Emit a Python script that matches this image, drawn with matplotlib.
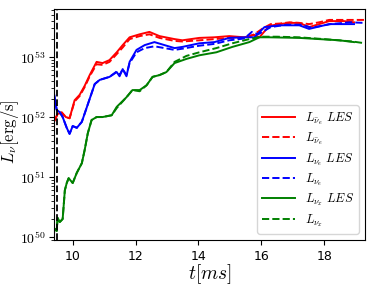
import numpy as np
import matplotlib
matplotlib.use('Agg')
import matplotlib.pyplot as plt
from matplotlib.ticker import FuncFormatter

plt.rcParams['mathtext.fontset'] = 'cm'

# time [ms] and log10 luminosity
t_ae = [9.40, 9.52, 9.65, 9.78, 9.90, 10.06, 10.22, 10.38, 10.54, 10.76, 10.95, 11.17, 11.40, 11.59,
        11.81, 12.13, 12.44, 12.76, 13.24, 13.49, 14.03, 14.51, 14.98, 15.46, 15.78, 15.94, 16.25,
        16.57, 16.89, 17.21, 17.52, 17.84, 18.16, 18.63, 18.95]
L_ae_les = [51.92, 52.05, 52.08, 52.00, 51.98, 52.28, 52.37, 52.52, 52.70, 52.92, 52.90, 52.95, 53.08, 53.20,
            53.33, 53.38, 53.42, 53.35, 53.30, 53.28, 53.32, 53.33, 53.35, 53.33, 53.37, 53.33, 53.52,
            53.55, 53.57, 53.57, 53.50, 53.55, 53.60, 53.60, 53.58]
t_ae_d = [9.40, 9.52, 9.65, 9.78, 9.90, 10.06, 10.22, 10.38, 10.54, 10.76, 10.95, 11.17, 11.40, 11.59,
          11.81, 12.13, 12.44, 12.76, 13.24, 13.49, 14.03, 14.51, 14.98, 15.46, 15.78, 16.05, 16.30,
          16.60, 16.90, 17.21, 17.52, 17.84, 18.16, 18.63, 19.30]
L_ae = [51.92, 52.05, 52.07, 52.00, 51.98, 52.26, 52.35, 52.50, 52.68, 52.88, 52.87, 52.92, 53.05, 53.16,
        53.30, 53.35, 53.38, 53.32, 53.27, 53.26, 53.28, 53.30, 53.32, 53.32, 53.38, 53.48, 53.55,
        53.56, 53.58, 53.57, 53.55, 53.58, 53.62, 53.62, 53.62]

t_e = [9.40, 9.49, 9.59, 9.68, 9.81, 9.90, 10.00, 10.13, 10.29, 10.44, 10.57, 10.70, 10.86, 11.17, 11.40,
       11.49, 11.59, 11.71, 11.81, 12.03, 12.29, 12.60, 12.92, 13.24, 13.49, 14.03, 14.51, 14.98, 15.46,
       15.78, 16.10, 16.57, 17.21, 17.52, 18.16, 18.79, 18.95]
L_e_les = [52.40, 52.12, 52.08, 52.00, 51.82, 51.72, 51.85, 51.82, 51.92, 52.15, 52.35, 52.55, 52.62, 52.67, 52.75,
           52.68, 52.80, 52.68, 52.92, 53.12, 53.20, 53.25, 53.20, 53.15, 53.17, 53.23, 53.25, 53.32, 53.33,
           53.33, 53.50, 53.53, 53.53, 53.47, 53.55, 53.55, 53.55]
t_e_d = [9.40, 9.49, 9.59, 9.68, 9.81, 9.90, 10.00, 10.13, 10.29, 10.44, 10.57, 10.70, 10.86, 11.17, 11.40,
         11.49, 11.59, 11.71, 11.81, 12.03, 12.29, 12.60, 12.92, 13.24, 13.49, 14.03, 14.51, 14.98, 15.46,
         15.70, 15.90, 16.30, 16.80, 17.30, 17.60, 18.20, 18.80, 19.30]
L_e = [52.40, 52.12, 52.08, 52.00, 51.82, 51.72, 51.85, 51.82, 51.92, 52.15, 52.35, 52.55, 52.62, 52.67, 52.76,
       52.70, 52.80, 52.70, 52.90, 53.08, 53.15, 53.18, 53.15, 53.12, 53.14, 53.19, 53.22, 53.28, 53.31,
       53.42, 53.38, 53.50, 53.54, 53.54, 53.49, 53.55, 53.58, 53.57]

t_x = [9.40, 9.49, 9.52, 9.59, 9.68, 9.75, 9.81, 9.87, 10.00, 10.13, 10.29, 10.38, 10.48, 10.60, 10.76,
       10.95, 11.24, 11.40, 11.71, 11.90, 12.13, 12.35, 12.54, 12.76, 12.98, 13.24, 13.62, 14.03, 14.57,
       15.08, 15.62, 15.94, 16.25, 17.21, 17.84, 18.48, 18.95]
L_x_les = [50.15, 50.10, 50.32, 50.25, 50.30, 50.78, 50.90, 50.98, 50.90, 51.07, 51.23, 51.45, 51.73, 51.95, 52.00,
           52.00, 52.03, 52.17, 52.33, 52.45, 52.45, 52.53, 52.67, 52.70, 52.75, 52.90, 52.97, 53.03, 53.08,
           53.17, 53.25, 53.33, 53.33, 53.32, 53.30, 53.28, 53.25]
t_x_d = [9.40, 9.49, 9.52, 9.59, 9.68, 9.75, 9.81, 9.87, 10.00, 10.13, 10.29, 10.38, 10.48, 10.60, 10.76,
         10.95, 11.24, 11.40, 11.71, 11.90, 12.13, 12.35, 12.54, 12.76, 12.98, 13.24, 13.62, 14.03, 14.57,
         15.08, 15.62, 16.00, 16.50, 17.20, 18.00, 18.90, 19.30]
L_x = [50.15, 50.10, 50.32, 50.25, 50.30, 50.78, 50.90, 50.98, 50.90, 51.07, 51.23, 51.45, 51.73, 51.95, 52.00,
       52.00, 52.03, 52.15, 52.33, 52.45, 52.43, 52.53, 52.67, 52.70, 52.75, 52.92, 53.02, 53.08, 53.15,
       53.23, 53.30, 53.34, 53.34, 53.33, 53.30, 53.26, 53.23]

t_bounce = 9.51

fig = plt.figure(figsize=(3.74, 2.85), dpi=100)
ax = fig.add_axes([0.144, 0.158, 0.832, 0.810])

ax.plot(t_ae, 10**np.array(L_ae_les), 'r-', lw=1.4, label=r'$L_{\bar{\nu}_e}\ LES$')
ax.plot(t_ae_d, 10**np.array(L_ae), 'r--', lw=1.4, label=r'$L_{\bar{\nu}_e}$')
ax.plot(t_e, 10**np.array(L_e_les), 'b-', lw=1.4, label=r'$L_{\nu_e}\ LES$')
ax.plot(t_e_d, 10**np.array(L_e), 'b--', lw=1.4, label=r'$L_{\nu_e}$')
ax.plot(t_x, 10**np.array(L_x_les), 'g-', lw=1.4, label=r'$L_{\nu_x}\ LES$')
ax.plot(t_x_d, 10**np.array(L_x), 'g--', lw=1.4, label=r'$L_{\nu_x}$')
ax.axvline(t_bounce, color='k', ls='--', lw=1.3)

ax.set_yscale('log')
ax.set_xlim(9.4, 19.3)
ax.set_ylim(10**49.95, 10**53.8)
ax.set_yticks([1e50, 1e51, 1e52, 1e53])
ax.yaxis.set_major_formatter(FuncFormatter(lambda v, p: r'$10^{%d}$' % round(np.log10(v))))
ax.set_xticks([10, 12, 14, 16, 18])
ax.tick_params(axis='x', labelsize=9)
ax.tick_params(axis='y', labelsize=10, pad=2.5)
ax.set_xlabel(r'$t[ms]$', fontsize=14, labelpad=0)
ax.set_ylabel(r'$L_{\nu}[\mathrm{erg/s}]$', fontsize=12)
ax.yaxis.set_label_coords(-0.105, 0.47)
ax.legend(loc='lower right', fontsize=9, handlelength=2.6, labelspacing=0.3,
          borderaxespad=0.5)

fig.savefig('out.png', dpi=100)
